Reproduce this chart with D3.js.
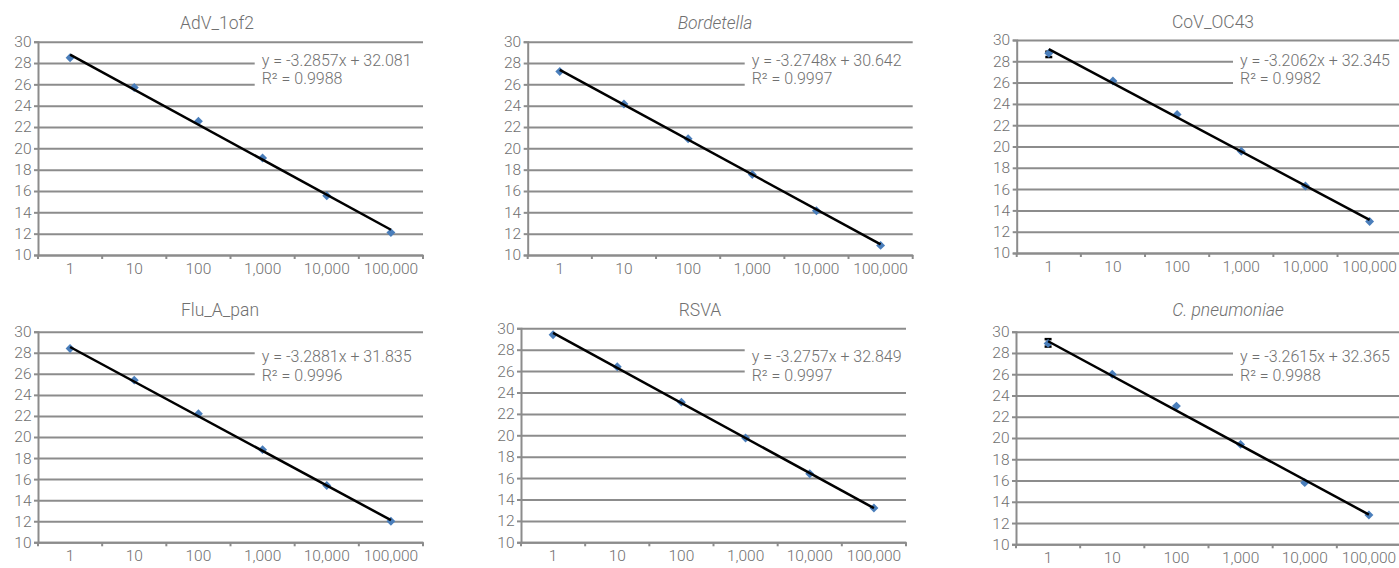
<!DOCTYPE html>
<html>
<head>
<meta charset="utf-8">
<script src="https://cdn.jsdelivr.net/npm/d3@7"></script>
<style>
  body { margin: 0; background: #fff; }
  svg text { font-family: Roboto, "Liberation Sans", sans-serif; font-weight: 300; fill: #6b6b6b; }
</style>
</head>
<body>
<div id="chart"></div>
<script>
// category labels (log dilution) and y ticks
var categories = ['1', '10', '100', '1,000', '10,000', '100,000']
var yTicks = [10, 12, 14, 16, 18, 20, 22, 24, 26, 28, 30]

var titles = ['AdV_1of2', 'Bordetella', 'CoV_OC43', 'Flu_A_pan', 'RSVA', 'C. pneumoniae']

// Ct values
var advValues = [28.5, 25.7, 22.55, 19.1, 15.55, 12.1]
var bordetellaValues = [27.2, 24.15, 20.9, 17.55, 14.15, 10.9]
var covValues = [28.75, 26.15, 23.0, 19.55, 16.3, 12.95]
var fluValues = [28.4, 25.4, 22.2, 18.8, 15.4, 12.0]
var rsvaValues = [29.4, 26.4, 23.1, 19.75, 16.4, 13.2]
var cpneuValues = [28.9, 26.0, 23.0, 19.4, 15.8, 12.75]

// trendline equations
var slopes = [-3.2857, -3.2748, -3.2062, -3.2881, -3.2757, -3.2615]
var intercepts = [32.081, 30.642, 32.345, 31.835, 32.849, 32.365]
var r2Values = ['0.9988', '0.9997', '0.9982', '0.9996', '0.9997', '0.9988']

// error bars visible only on the first point of two panels
var covError = [{cat: '1', low: 28.4, high: 28.9}]
var cpneuError = [{cat: '1', low: 28.6, high: 29.3}]

var seriesValues = [advValues, bordetellaValues, covValues, fluValues, rsvaValues, cpneuValues]
var seriesErrors = [[], [], covError, [], [], cpneuError]

// panel layout (plot area boxes, title and label positions)
var panels = [
    {left: 38, right: 423, top: 41.7, bottom: 255, titleX: 217, titleY: 23, italic: false, eqX: 261.7, eqY: 60},
    {left: 527.7, right: 912.7, top: 41.7, bottom: 255, titleX: 715, titleY: 23, italic: true, eqX: 751.7, eqY: 60},
    {left: 1016.7, right: 1401.7, top: 40, bottom: 253, titleX: 1213, titleY: 22, italic: false, eqX: 1240, eqY: 60},
    {left: 38, right: 423, top: 331.7, bottom: 542.3, titleX: 220, titleY: 310, italic: false, eqX: 261.7, eqY: 356.7},
    {left: 521, right: 906, top: 328.3, bottom: 542.3, titleX: 700, titleY: 310, italic: false, eqX: 751.7, eqY: 356.7},
    {left: 1016, right: 1401, top: 331.7, bottom: 544.3, titleX: 1228, titleY: 310, italic: true, eqX: 1240, eqY: 356.7}
]

var svg = d3.select('#chart').append('svg')
    .attr('width', 1399)
    .attr('height', 568)

var gridColor = '#8c8c8c'
var textColor = '#707070'

panels.forEach(function(p, i) {
    var values = seriesValues[i]
    var g = svg.append('g')

    var x = d3.scaleBand().domain(categories).range([p.left, p.right]).padding(0)
    var y = d3.scaleLinear().domain([10, 30]).range([p.bottom, p.top])

    // gridlines
    g.append('g')
        .attr('transform', `translate(${p.left},0)`)
        .call(d3.axisLeft(y).tickValues(yTicks).tickSize(-(p.right - p.left)).tickFormat(''))
        .call(a => a.select('.domain').remove())
        .selectAll('line').attr('stroke', gridColor).attr('stroke-width', 2)

    // y axis
    var yAxis = g.append('g')
        .attr('transform', `translate(${p.left},0)`)
        .call(d3.axisLeft(y).tickValues(yTicks).tickSize(4).tickPadding(2.5))
    yAxis.select('.domain').attr('stroke', gridColor).attr('stroke-width', 2)
    yAxis.selectAll('line').attr('stroke', gridColor).attr('stroke-width', 2)
    yAxis.selectAll('text').attr('font-size', 15.5).style('fill', textColor)

    // x axis, labels centred in categories
    var xAxis = g.append('g')
        .attr('transform', `translate(0,${p.bottom})`)
        .call(d3.axisBottom(x).tickSize(0).tickPadding(7.5))
    xAxis.select('.domain').attr('stroke', gridColor).attr('stroke-width', 2)
    xAxis.selectAll('text').attr('font-size', 15.5).style('fill', textColor)

    // tick marks between categories
    var bounds = categories.map(c => x(c)).concat([x.range()[1]])
    xAxis.selectAll('.bound')
        .data(bounds)
        .enter()
        .append('line')
        .attr('class', 'bound')
        .attr('x1', d => d).attr('x2', d => d)
        .attr('y1', 0).attr('y2', 4)
        .attr('stroke', gridColor).attr('stroke-width', 2)

    // equation label on a white box
    var eqLines = [`y = ${slopes[i]}x + ${intercepts[i]}`, `R² = ${r2Values[i]}`]
    var box = g.append('rect')
        .attr('x', p.eqX - 7)
        .attr('y', p.eqY - 12)
        .attr('height', 42)
        .attr('fill', '#fff')

    var eqText = g.selectAll('.eq')
        .data(eqLines)
        .enter()
        .append('text')
        .attr('class', 'eq')
        .attr('x', p.eqX)
        .attr('y', (d, k) => p.eqY + k * 18.5)
        .attr('dy', '0.35em')
        .attr('font-size', 16)
        .style('fill', textColor)
        .text(d => d)

    var textW = d3.max(eqText.nodes(), n => n.getComputedTextLength())
    box.attr('width', Math.max(p.right - p.eqX, textW + 6) + 10)

    var cx = c => x(c) + x.bandwidth() / 2

    // error bars
    var err = g.selectAll('.err')
        .data(seriesErrors[i])
        .enter()
        .append('g')
        .attr('class', 'err')
    err.append('line')
        .attr('x1', d => cx(d.cat)).attr('x2', d => cx(d.cat))
        .attr('y1', d => y(d.low)).attr('y2', d => y(d.high))
        .attr('stroke', '#000').attr('stroke-width', 2.5)
    err.selectAll('.cap')
        .data(d => [{cat: d.cat, v: d.low}, {cat: d.cat, v: d.high}])
        .enter()
        .append('line')
        .attr('x1', d => cx(d.cat) - 3.5).attr('x2', d => cx(d.cat) + 3.5)
        .attr('y1', d => y(d.v)).attr('y2', d => y(d.v))
        .attr('stroke', '#000').attr('stroke-width', 2.5)

    // data points
    g.selectAll('.pt')
        .data(values)
        .enter()
        .append('path')
        .attr('class', 'pt')
        .attr('d', d3.symbol().type(d3.symbolSquare).size(40))
        .attr('transform', (d, k) => `translate(${cx(categories[k])},${y(d)}) rotate(45)`)
        .attr('fill', '#4a7ebb')

    // linear trendline over category index 1..6
    var first = categories[0], last = categories[categories.length - 1]
    var ends = [{c: first, k: 1}, {c: last, k: categories.length}]
    var line = d3.line()
        .x(d => cx(d.c))
        .y(d => y(slopes[i] * d.k + intercepts[i]))
    g.append('path')
        .datum(ends)
        .attr('fill', 'none')
        .attr('stroke', '#000')
        .attr('stroke-width', 2.5)
        .attr('d', line)

    // title
    g.append('text')
        .attr('x', p.titleX)
        .attr('y', p.titleY)
        .attr('dy', '0.35em')
        .attr('text-anchor', 'middle')
        .attr('font-size', 17.5)
        .style('fill', textColor)
        .style('font-style', p.italic ? 'italic' : 'normal')
        .text(titles[i])
})
</script>
</body>
</html>
